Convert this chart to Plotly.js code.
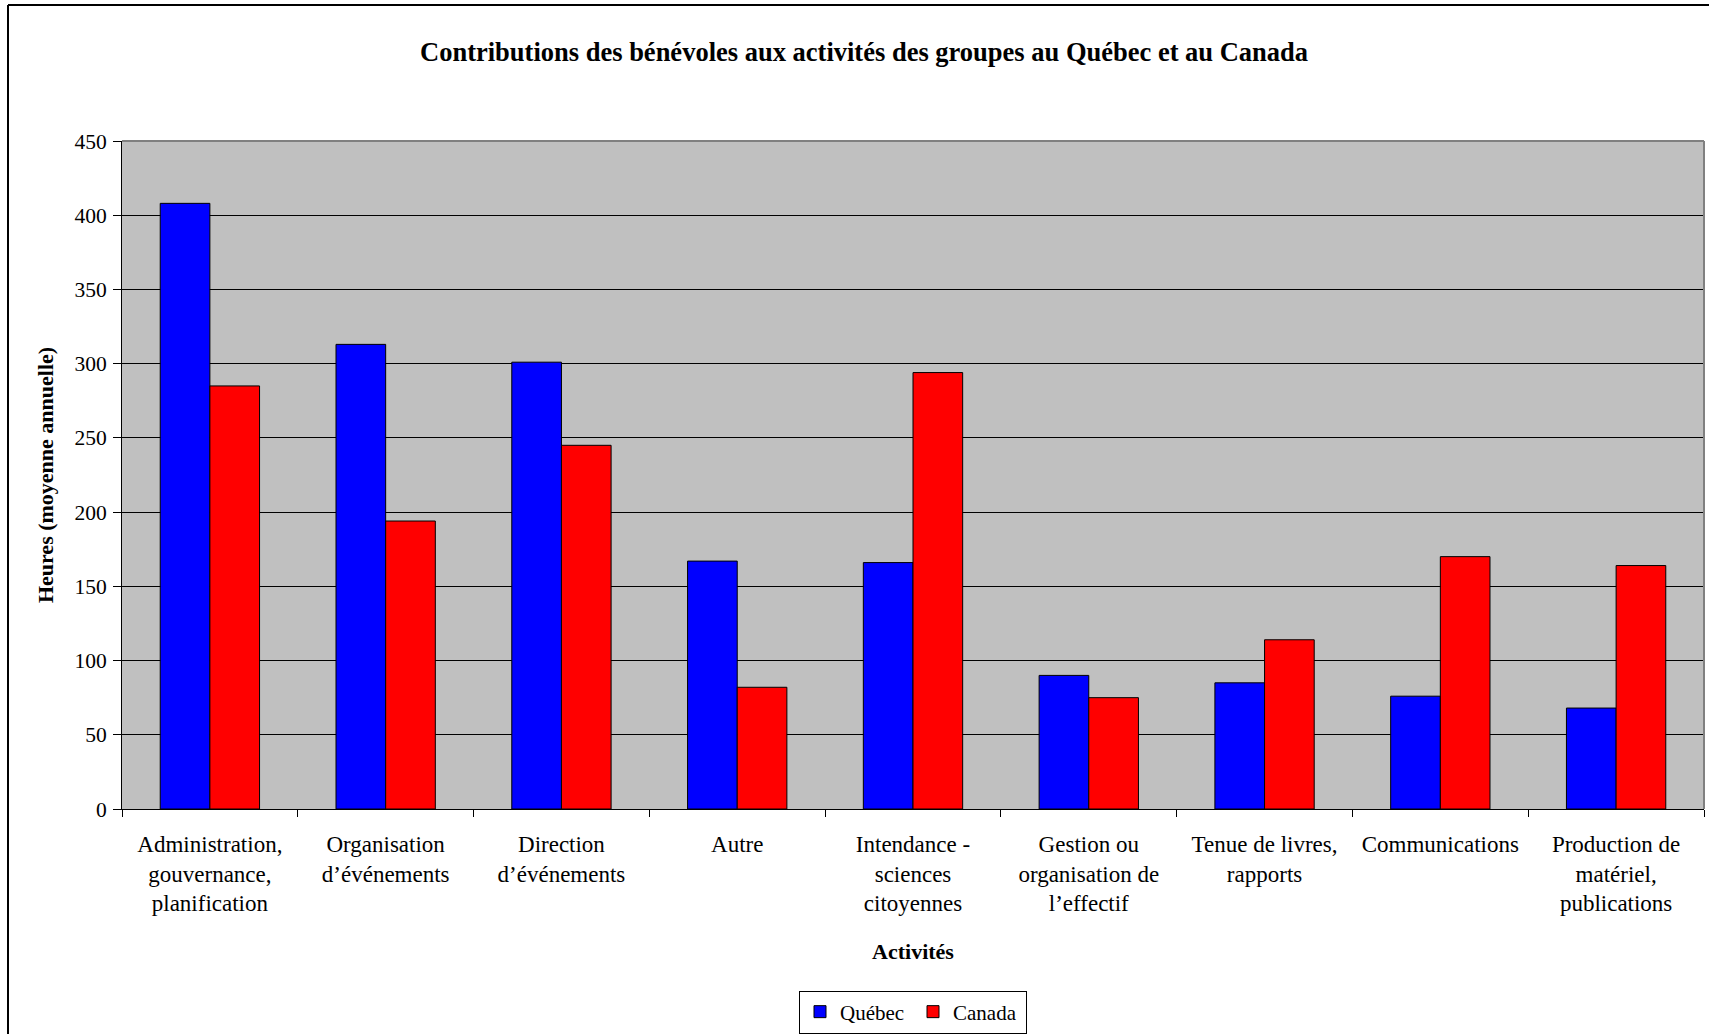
<!DOCTYPE html>
<html>
<head>
<meta charset="utf-8">
<script src="https://cdn.plot.ly/plotly-3.0.1.min.js"></script>
<style>
  html, body { margin: 0; padding: 0; background: #fff; }
  #chart { width: 1709px; height: 1034px; }
</style>
</head>
<body>
<div id="chart"></div>
<script>
const categories = [
  "Administration, gouvernance, planification",
  "Organisation d’événements",
  "Direction d’événements",
  "Autre",
  "Intendance - sciences citoyennes",
  "Gestion ou organisation de l’effectif",
  "Tenue de livres, rapports",
  "Communications",
  "Production de matériel, publications"
];
const tickLabels = [
  "Administration,<br>gouvernance,<br>planification",
  "Organisation<br>d’événements",
  "Direction<br>d’événements",
  "Autre",
  "Intendance -<br>sciences<br>citoyennes",
  "Gestion ou<br>organisation de<br>l’effectif",
  "Tenue de livres,<br>rapports",
  "Communications",
  "Production de<br>matériel,<br>publications"
];
const quebec = [408, 313, 301, 167, 166, 90, 85, 76, 68];
const canada = [285, 194, 245, 82, 294, 75, 114, 170, 164];

const FONT = '"Palatino Linotype", "Book Antiqua", Palatino, "Liberation Serif", serif';

const traces = [
  { type: 'bar', name: 'Québec', x: categories, y: quebec,
    marker: { color: '#0000FF', line: { color: '#000000', width: 1 } } },
  { type: 'bar', name: 'Canada', x: categories, y: canada,
    marker: { color: '#FF0000', line: { color: '#000000', width: 1 } } }
];

const layout = {
  width: 1709, height: 1034,
  margin: { l: 122, r: 5, t: 141, b: 225, autoexpand: false },
  paper_bgcolor: '#FFFFFF',
  plot_bgcolor: '#C0C0C0',
  font: { family: FONT, size: 21, color: '#000' },
  title: {
    text: '<b>Contributions des bénévoles aux activités des groupes au Québec et au Canada</b>',
    font: { family: FONT, size: 26.5, color: '#000' },
    xref: 'container', x: 0.5056, xanchor: 'center',
    yref: 'container', y: 1 - 52 / 1034, yanchor: 'middle'
  },
  barmode: 'group',
  bargap: 0.435,
  bargroupgap: 0,
  showlegend: true,
  legend: {
    orientation: 'h', xref: 'paper', x: 0.5, xanchor: 'center',
    yref: 'paper', y: (809 - 1012) / 668, yanchor: 'middle',
    bordercolor: '#000', borderwidth: 1, bgcolor: '#fff',
    font: { family: FONT, size: 21, color: '#000' },
    itemwidth: 30,
    entrywidth: 68, entrywidthmode: 'pixels',
    traceorder: 'normal'
  },
  xaxis: {
    type: 'category', automargin: false,
    tickvals: categories, ticktext: tickLabels,
    tickson: 'boundaries', ticks: 'outside', ticklen: 7, tickcolor: '#000', tickwidth: 1,
    ticklabelstandoff: 14,
    showline: true, linecolor: '#000', linewidth: 1,
    showgrid: false,
    tickfont: { family: FONT, size: 23, color: '#000' },
    tickangle: 0,
    title: { text: '<b>Activités</b>', font: { family: FONT, size: 22, color: '#000' }, standoff: 28 }
  },
  yaxis: {
    range: [0, 450], dtick: 50, tick0: 0, automargin: false,
    ticks: 'outside', ticklen: 8, tickcolor: '#000', tickwidth: 1,
    ticklabelstandoff: 2,
    showline: true, linecolor: '#000', linewidth: 1,
    showgrid: true, gridcolor: '#000', gridwidth: 1,
    zeroline: false,
    tickfont: { family: FONT, size: 21.5, color: '#000' },
    title: { text: '<b>Heures (moyenne annuelle)</b>', font: { family: FONT, size: 22, color: '#000' }, standoff: 14 }
  },
  shapes: [
    { type: 'line', xref: 'paper', yref: 'paper', x0: 0, x1: 1, y0: 1, y1: 1,
      line: { color: '#808080', width: 2 } },
    { type: 'line', xref: 'paper', yref: 'paper', x0: 1, x1: 1, y0: 0, y1: 1,
      line: { color: '#808080', width: 2 } },
    { type: 'line', xref: 'paper', yref: 'paper',
      x0: (8 - 122) / 1582, x1: (8 - 122) / 1582, y0: (809 - 5) / 668, y1: -0.5,
      line: { color: '#000', width: 2 } },
    { type: 'line', xref: 'paper', yref: 'paper',
      x0: (8 - 122) / 1582, x1: 1.1, y0: (809 - 5) / 668, y1: (809 - 5) / 668,
      line: { color: '#000', width: 2 } }
  ]
};

Plotly.newPlot('chart', traces, layout, { displayModeBar: false, responsive: false });
</script>
</body>
</html>
